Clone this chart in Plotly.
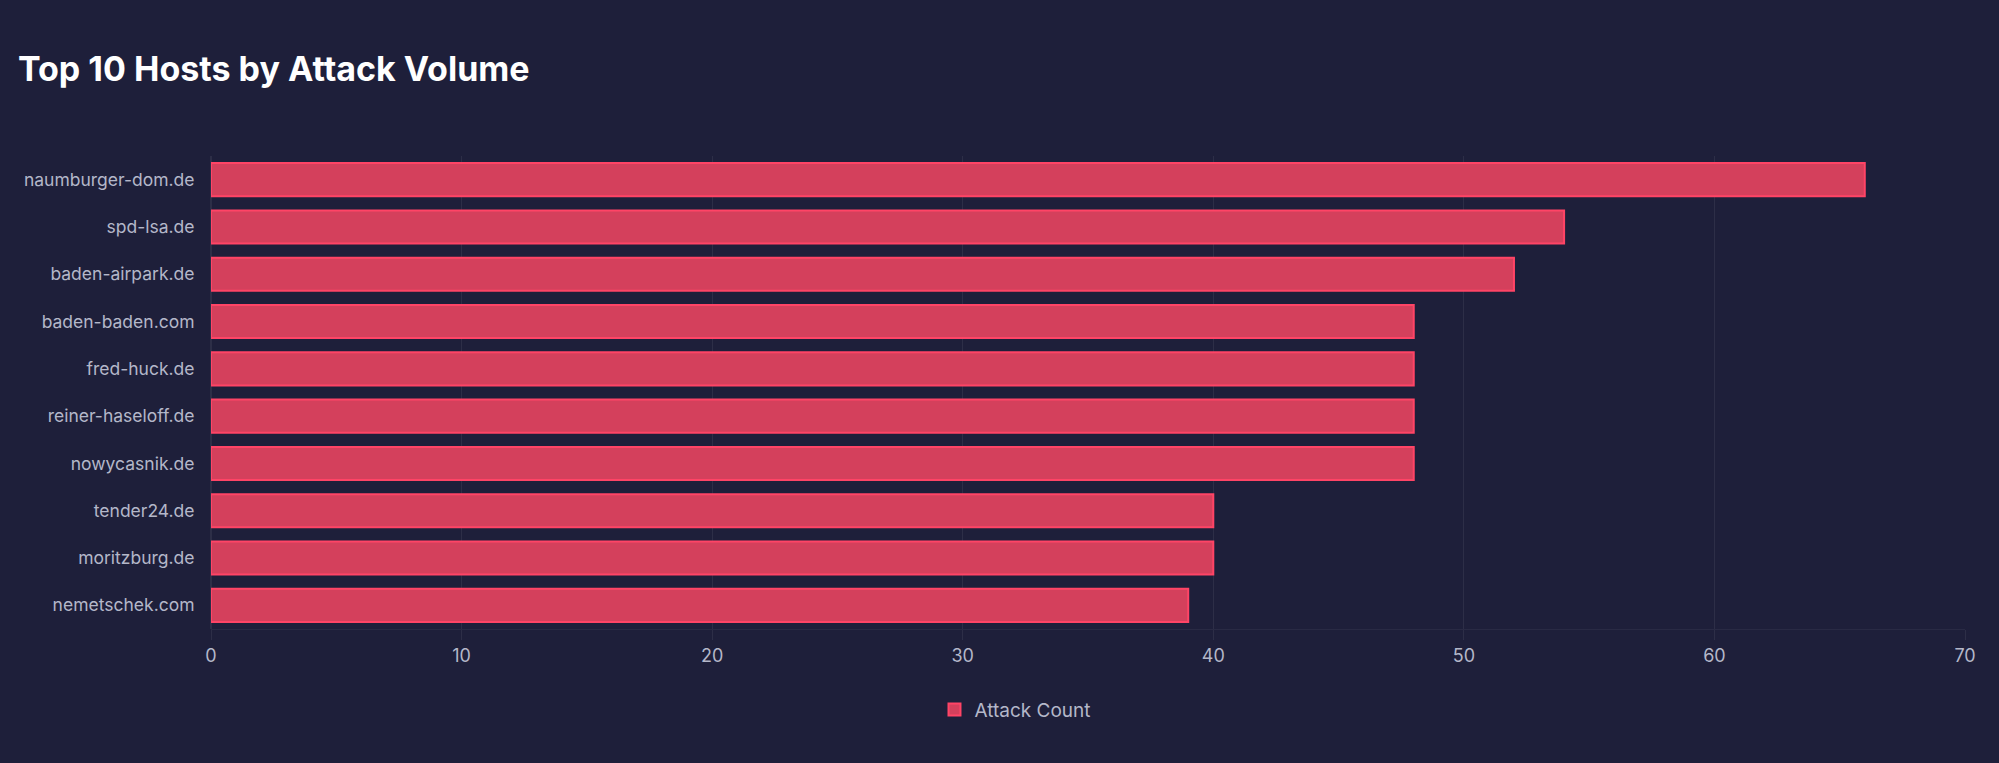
import plotly.graph_objects as go

# dados
hosts = ['naumburger-dom.de', 'spd-lsa.de', 'baden-airpark.de', 'baden-baden.com',
         'fred-huck.de', 'reiner-haseloff.de', 'nowycasnik.de', 'tender24.de',
         'moritzburg.de', 'nemetschek.com']
attack_count = [66, 54, 52, 48, 48, 48, 48, 40, 40, 39]
x_ticks = [0, 10, 20, 30, 40, 50, 60, 70]

BG = '#1e1f3a'
GRID = 'rgba(255,255,255,0.07)'
TXT = '#b4b7c9'

fig = go.Figure(data=[
    go.Bar(y=hosts, x=attack_count, orientation='h', name='Attack Count',
           marker=dict(color='#d4405c', line=dict(color='#ff4466', width=2)))
])

fig.update_layout(
    width=1999, height=763,
    paper_bgcolor=BG, plot_bgcolor=BG,
    font=dict(family='Inter', color=TXT, size=18),
    title=dict(text='<b>Top 10 Hosts by Attack Volume</b>',
               font=dict(family='Inter', size=34, color='#ffffff'),
               xref='container', x=0.009, xanchor='left',
               yref='container', y=0.91, yanchor='middle'),
    margin=dict(l=211, r=34, t=156, b=134),
    bargap=0.3,
    showlegend=True,
    legend=dict(orientation='h', xref='container', x=0.508, xanchor='center',
                yref='container', y=0.07, yanchor='middle',
                font=dict(size=19, color=TXT)),
    xaxis=dict(range=[0, 70], tickvals=x_ticks, gridcolor=GRID, zeroline=True,
               zerolinecolor=GRID, showline=True, linecolor='rgba(255,255,255,0.05)',
               ticks='outside', ticklen=10, tickcolor=GRID,
               tickfont=dict(size=18, color=TXT)),
    yaxis=dict(autorange='reversed', showgrid=False, ticks='outside', ticklen=12,
               tickcolor='rgba(0,0,0,0)', tickfont=dict(size=17.5, color=TXT)),
)

fig.write_html('out.html', config={'displayModeBar': False},
               post_script="document.body.style.margin='0';"
                           "document.body.style.overflow='hidden';")
